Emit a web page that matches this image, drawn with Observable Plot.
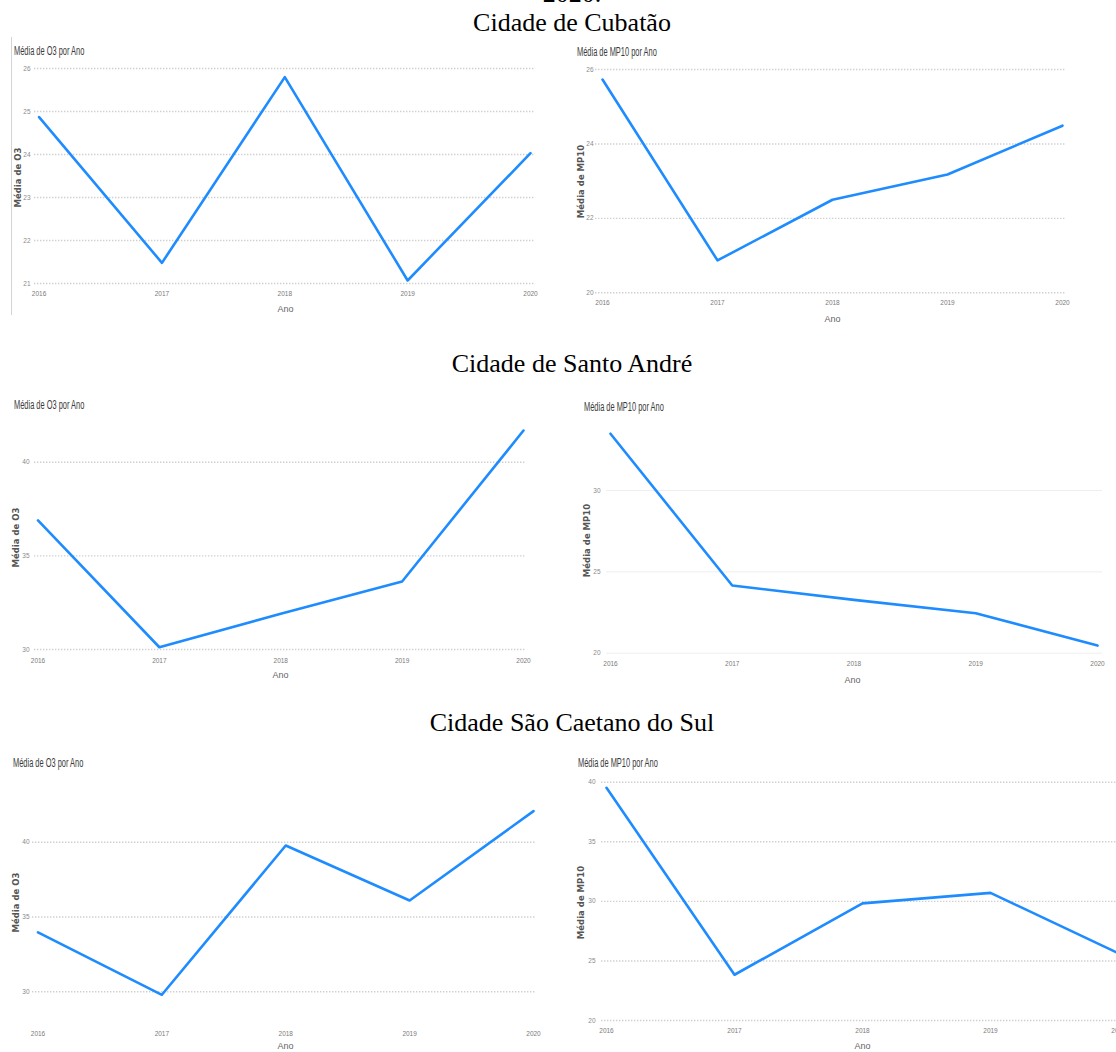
<!DOCTYPE html>
<html>
<head>
<meta charset="utf-8">
<script src="https://cdn.jsdelivr.net/npm/d3@7"></script>
<script src="https://cdn.jsdelivr.net/npm/@observablehq/plot@0.6"></script>
<style>
  html, body { margin: 0; padding: 0; background: #fff; }
  #page { position: relative; width: 1116px; height: 1052px; overflow: hidden; background: #fff; }
  .sec { position: absolute; left: 0; width: 1144px; text-align: center; font-family: "Liberation Serif", "Times New Roman", serif; font-size: 26px; line-height: 26px; color: #000; white-space: nowrap; }
  .ptitle { position: absolute; font-family: "Liberation Sans", Arial, sans-serif; font-size: 12px; line-height: 12px; color: #3a3a3a; white-space: nowrap; transform: scaleX(0.62); transform-origin: 0 50%; }
  .panel { position: absolute; }
  .panel svg { overflow: visible; max-width: none !important; display: block; }
</style>
</head>
<body>
<div id="page"></div>
<script>
// ---------- data ----------
const anos = [2016, 2017, 2018, 2019, 2020];
const secoes = ["2020.", "Cidade de Cubatão", "Cidade de Santo André", "Cidade São Caetano do Sul"];
const titulosPainel = ["Média de O3 por Ano", "Média de MP10 por Ano"];
const titulosY = ["Média de O3", "Média de MP10"];
const tituloX = "Ano";

const o3Cubatao = [24.87, 21.48, 25.80, 21.07, 24.03];
const mp10Cubatao = [25.73, 20.87, 22.50, 23.18, 24.49];
const o3SantoAndre = [36.89, 30.12, 31.91, 33.63, 41.69];
const mp10SantoAndre = [33.49, 24.16, 23.28, 22.46, 20.47];
const o3SaoCaetano = [33.97, 29.80, 39.78, 36.10, 42.08];
const mp10SaoCaetano = [39.53, 23.84, 29.83, 30.71, 25.64];

const ticksO3Cubatao = [21, 22, 23, 24, 25, 26];
const ticksMp10Cubatao = [20, 22, 24, 26];
const ticksO3SantoAndre = [30, 35, 40];
const ticksMp10SantoAndre = [20, 25, 30];
const ticksO3SaoCaetano = [30, 35, 40];
const ticksMp10SaoCaetano = [20, 25, 30, 35, 40];

// ---------- layout ----------
const page = document.getElementById("page");
const blue = "#1E8CFF";
const sans = "'Liberation Sans', Arial, sans-serif";

function addSection(text, top) {
  const d = document.createElement("div");
  d.className = "sec";
  d.style.top = top + "px";
  d.textContent = text;
  page.appendChild(d);
}
addSection(secoes[0], -19);
addSection(secoes[1], 10);
addSection(secoes[2], 351);
addSection(secoes[3], 710);

// screenshot border on the first panel
const border = document.createElement("div");
border.style.cssText = "position:absolute;left:11px;top:37px;width:0;height:278px;border-left:1px solid #d4d4d4;";
page.appendChild(border);

function panel(c) {
  const t = document.createElement("div");
  t.className = "ptitle";
  t.style.left = c.titleX + "px";
  t.style.top = (c.titleY - 6) + "px";
  t.textContent = c.title;
  page.appendChild(t);

  const marginLeft = c.x0 - c.left;
  const marginRight = c.left + c.width - c.x1;
  const marginTop = c.pxHi - c.top;
  const marginBottom = c.top + c.height - c.pxLo;
  const cx = (c.x0 + c.x1) / 2, cy = (c.pxHi + c.pxLo) / 2;
  const data = anos.map((a, i) => ({ano: a, v: c.values[i]}));

  const svg = Plot.plot({
    width: c.width, height: c.height,
    marginLeft, marginRight, marginTop, marginBottom,
    x: {domain: [2016, 2020], axis: null},
    y: {domain: c.domain, axis: null},
    style: {fontFamily: sans, background: "transparent", color: "#8a8a8a"},
    marks: [
      Plot.ruleY(c.ticks, {
        stroke: c.gridColor || "#cfcfcf",
        strokeWidth: c.gridWidth || 1.4,
        strokeDasharray: c.gridDash === undefined ? "1.4,1.6" : c.gridDash,
        insetLeft: -(c.x0 - c.gridL), insetRight: -(c.gridR - c.x1)
      }),
      Plot.axisX(anos, {anchor: "bottom", tickSize: 0, tickPadding: c.xPad, tickFormat: "d", fontSize: 6.5, fill: "#7a7a7a", label: null}),
      Plot.axisY(c.ticks, {anchor: "left", tickSize: 0, tickPadding: c.yPad, fontSize: 6.5, fill: "#8a8a8a", label: null}),
      Plot.lineY(data, {x: "ano", y: "v", stroke: blue, strokeWidth: 2.6}),
      Plot.text([tituloX], {frameAnchor: "bottom", lineAnchor: "middle", textAnchor: "middle", dx: c.anoX - cx, dy: c.anoY - c.pxLo, fontSize: 9, fill: "#666"}),
      Plot.text([c.yTitle], {frameAnchor: "left", rotate: -90, textAnchor: "middle", lineAnchor: "middle", dx: c.ytX - c.x0, dy: c.ytY - cy, fontSize: 8.5, fontWeight: "bold", fontFamily: "DejaVu Sans, sans-serif", fill: "#555"})
    ]
  });
  svg.style.maxWidth = "none";
  svg.style.width = c.width + "px";
  svg.style.height = c.height + "px";
  const wrap = document.createElement("div");
  wrap.className = "panel";
  wrap.style.left = c.left + "px";
  wrap.style.top = c.top + "px";
  wrap.style.width = c.width + "px";
  wrap.style.height = c.height + "px";
  wrap.appendChild(svg);
  page.appendChild(wrap);
}

function px(tA, pA, tB, pB, v) { return pA + (v - tA) * (pB - pA) / (tB - tA); }

// Cubatão O3
panel({title: titulosPainel[0], titleX: 14, titleY: 51, yTitle: titulosY[0], ytX: 18, ytY: 177,
  left: 0, top: 40, width: 556, height: 280, x0: 38.6, x1: 530,
  domain: [21, 26], pxLo: 283, pxHi: 68, ticks: ticksO3Cubatao, values: o3Cubatao,
  gridL: 34, gridR: 534, xPad: 7.5, yPad: 8.6, anoX: 285, anoY: 309});

// Cubatão MP10
panel({title: titulosPainel[1], titleX: 577, titleY: 52, yTitle: titulosY[1], ytX: 581, ytY: 181,
  left: 556, top: 40, width: 560, height: 290, x0: 602, x1: 1062,
  domain: [20, 26], pxLo: 292.3, pxHi: 69, ticks: ticksMp10Cubatao, values: mp10Cubatao,
  gridL: 595, gridR: 1066, xPad: 7.2, yPad: 9, anoX: 832, anoY: 319});

// Santo André O3
panel({title: titulosPainel[0], titleX: 13.6, titleY: 405, yTitle: titulosY[0], ytX: 16, ytY: 537,
  left: 0, top: 390, width: 556, height: 300, x0: 37.5, x1: 523,
  domain: [30, 42], pxLo: 649, pxHi: px(30, 649, 40, 461.7, 42), ticks: ticksO3SantoAndre, values: o3SantoAndre,
  gridL: 34, gridR: 526, xPad: 9.2, yPad: 8.5, anoX: 280, anoY: 675});

// Santo André MP10
panel({title: titulosPainel[1], titleX: 584, titleY: 407, yTitle: titulosY[1], ytX: 587, ytY: 540,
  left: 556, top: 390, width: 560, height: 300, x0: 610, x1: 1097,
  domain: [20, 34], pxLo: 652.7, pxHi: px(20, 652.7, 30, 490, 34), ticks: ticksMp10SantoAndre, values: mp10SantoAndre,
  gridL: 606, gridR: 1102, xPad: 7.8, yPad: 10, anoX: 852, anoY: 680,
  gridColor: "#eeeeee", gridWidth: 1, gridDash: null});

// São Caetano O3
panel({title: titulosPainel[0], titleX: 13, titleY: 763, yTitle: titulosY[0], ytX: 16, ytY: 902,
  left: 0, top: 745, width: 556, height: 307, x0: 37.5, x1: 533,
  domain: [28, 43], pxLo: px(30, 991.3, 40, 841.7, 28), pxHi: px(30, 991.3, 40, 841.7, 43), ticks: ticksO3SaoCaetano, values: o3SaoCaetano,
  gridL: 32, gridR: 536, xPad: 9.3, yPad: 8.5, anoX: 285, anoY: 1046});

// São Caetano MP10 (cropped at the right edge)
panel({title: titulosPainel[1], titleX: 578, titleY: 763, yTitle: titulosY[1], ytX: 581, ytY: 902,
  left: 556, top: 745, width: 580, height: 307, x0: 606, x1: 1118,
  domain: [20, 40], pxLo: 1020, pxHi: 781.7, ticks: ticksMp10SaoCaetano, values: mp10SaoCaetano,
  gridL: 601, gridR: 1130, xPad: 8.2, yPad: 11, anoX: 862, anoY: 1046});
</script>
</body>
</html>
